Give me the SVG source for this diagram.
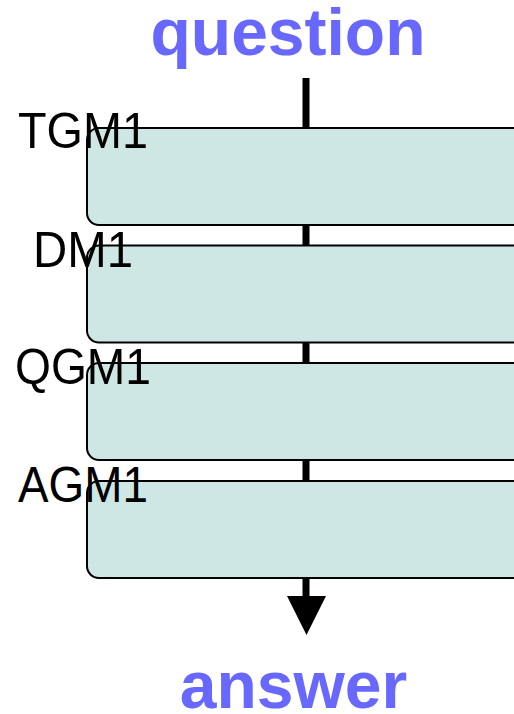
<svg xmlns="http://www.w3.org/2000/svg" width="514" height="714" viewBox="0 0 514 714">
<style>
.box{fill:#cfe7e4;stroke:#000;stroke-width:2}
.lbl{font-family:"Liberation Sans",Arial,sans-serif;font-size:50px;fill:#000}
.io{font-family:"Liberation Sans",Arial,sans-serif;font-size:66px;font-weight:bold;fill:#6868ff;text-anchor:middle}
</style>
<rect width="514" height="714" fill="#fff"/>
<text class="io" x="288" y="55">question</text>
<g id="connectors">
<line x1="306" y1="78" x2="306" y2="598" stroke="#000" stroke-width="7"/>
<polygon points="287,596 326,596 306.5,635" fill="#000"/>
</g>
<g id="TGM1">
<rect class="box" x="87" y="128" width="460" height="97" rx="12"/>
<text class="lbl" x="18" y="148" textLength="130" lengthAdjust="spacingAndGlyphs">TGM1</text>
</g>
<g id="DM1">
<rect class="box" x="87" y="245.5" width="460" height="97" rx="12"/>
<text class="lbl" x="33" y="267" textLength="100" lengthAdjust="spacingAndGlyphs">DM1</text>
</g>
<g id="QGM1">
<rect class="box" x="87" y="363" width="460" height="97" rx="12"/>
<text class="lbl" x="15" y="384" textLength="136" lengthAdjust="spacingAndGlyphs">QGM1</text>
</g>
<g id="AGM1">
<rect class="box" x="87" y="481" width="460" height="97" rx="12"/>
<text class="lbl" x="18" y="502" textLength="130" lengthAdjust="spacingAndGlyphs">AGM1</text>
</g>
<text class="io" x="293.5" y="708">answer</text>
</svg>
